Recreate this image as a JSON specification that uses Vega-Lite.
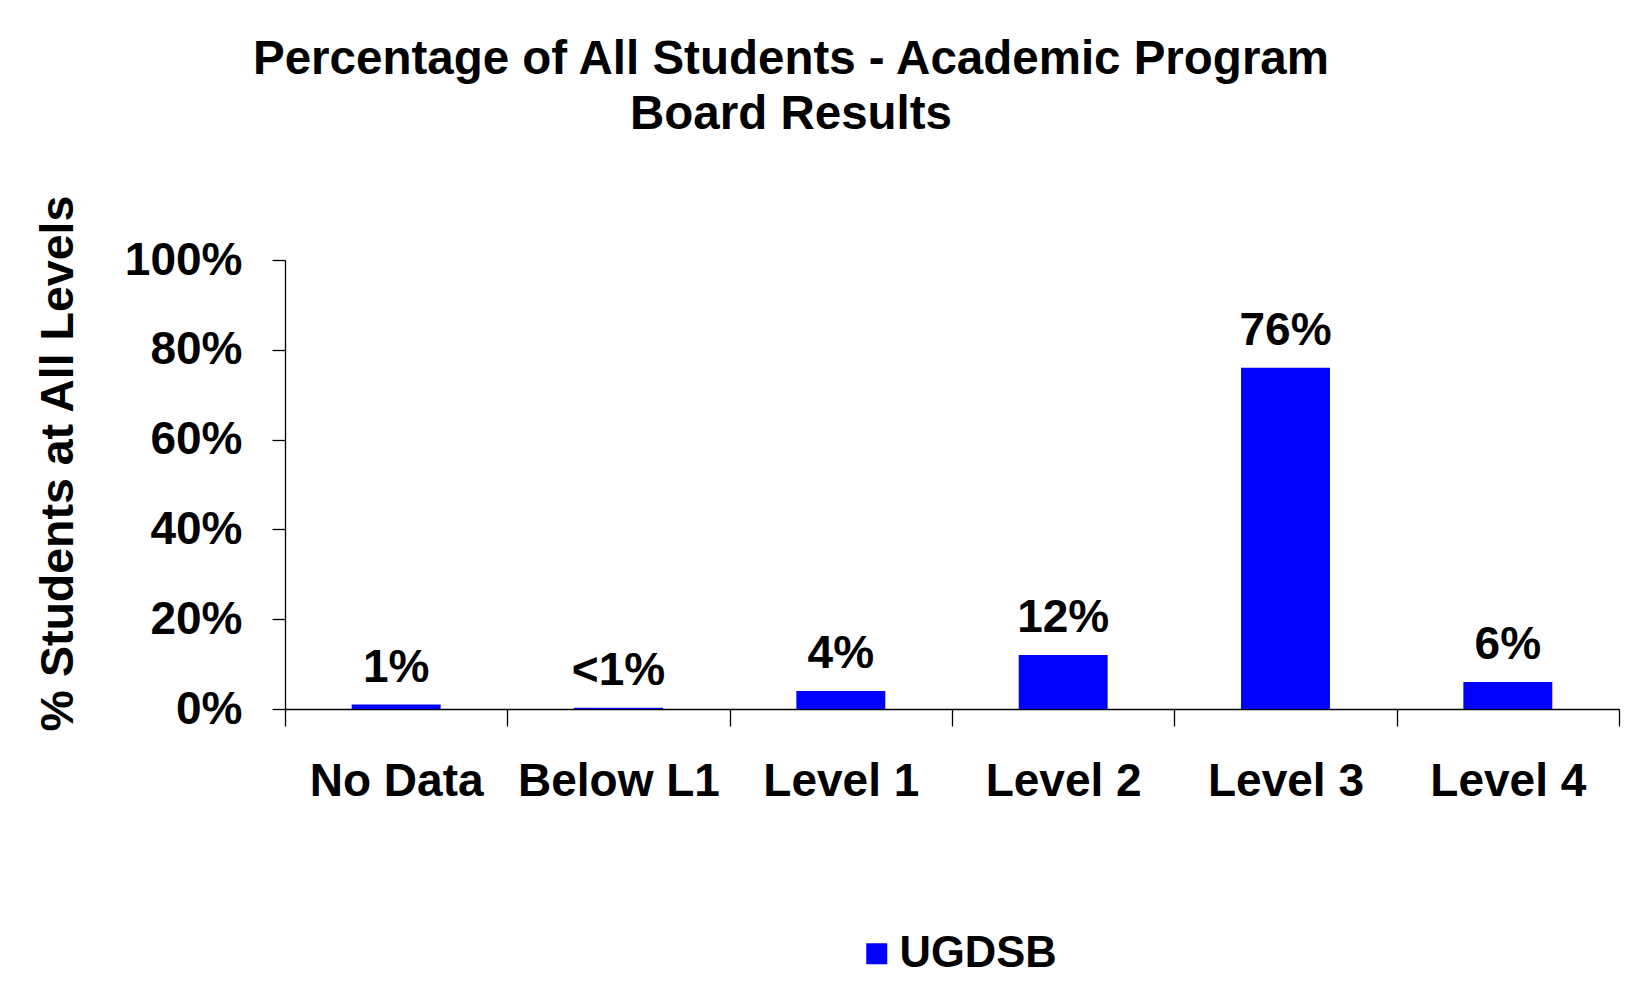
{
  "$schema": "https://vega.github.io/schema/vega-lite/v6.json",
  "width": 1334,
  "height": 449,
  "autosize": {"type": "none"},
  "padding": {"left": 285, "top": 260, "right": 17, "bottom": 279},
  "background": "#ffffff",
  "config": {
    "font": "Liberation Sans",
    "view": {"stroke": null},
    "axis": {"grid": false, "domainColor": "#000000", "tickColor": "#000000", "labelColor": "#000000", "titleColor": "#000000", "domainWidth": 1.3, "tickWidth": 1.3}
  },
  "title": {
    "text": ["Percentage of All Students - Academic Program", "Board Results"],
    "fontSize": 47.5,
    "fontWeight": "bold",
    "color": "#000000",
    "lineHeight": 55,
    "anchor": "middle",
    "frame": "group",
    "dx": -161,
    "dy": -52
  },
  "data": {
    "values": [
      {"level": "No Data", "pct": 0.01, "label": "1%", "series": "UGDSB"},
      {"level": "Below L1", "pct": 0.003, "label": "<1%", "series": "UGDSB"},
      {"level": "Level 1", "pct": 0.04, "label": "4%", "series": "UGDSB"},
      {"level": "Level 2", "pct": 0.12, "label": "12%", "series": "UGDSB"},
      {"level": "Level 3", "pct": 0.76, "label": "76%", "series": "UGDSB"},
      {"level": "Level 4", "pct": 0.06, "label": "6%", "series": "UGDSB"}
    ]
  },
  "encoding": {
    "x": {
      "field": "level",
      "type": "nominal",
      "sort": null,
      "scale": {"paddingInner": 0, "paddingOuter": 0},
      "axis": {
        "title": null,
        "labelAngle": 0,
        "labelFontSize": 46,
        "labelFontWeight": "bold",
        "labelPadding": 33,
        "labelLimit": 0,
        "tickSize": 17,
        "tickBand": "extent",
        "labelBaseline": "top"
      }
    },
    "y": {
      "field": "pct",
      "type": "quantitative",
      "scale": {"domain": [0, 1], "nice": false},
      "axis": {
        "title": "% Students at All Levels",
        "values": [0, 0.2, 0.4, 0.6, 0.8, 1],
        "format": ".0%",
        "labelFontSize": 46,
        "labelFontWeight": "bold",
        "labelPadding": 30,
        "tickSize": 13,
        "titleFontSize": 46.5,
        "titleFontWeight": "bold",
        "titleAngle": 270,
        "titleBaseline": "alphabetic",
        "titleAlign": "center",
        "titleX": -213,
        "titleY": 203
      }
    }
  },
  "layer": [
    {
      "mark": {"type": "bar", "width": {"band": 0.4}},
      "encoding": {
        "color": {
          "field": "series",
          "type": "nominal",
          "scale": {"range": ["#0000ff"]},
          "legend": {
            "title": null,
            "orient": "none",
            "legendX": 570,
            "legendY": 672,
            "symbolType": "square",
            "symbolSize": 441,
            "symbolStrokeWidth": 0,
            "symbolOpacity": 1,
            "labelFontSize": 43.5,
            "labelFontWeight": "bold",
            "labelColor": "#000000",
            "labelOffset": 1
          }
        }
      }
    },
    {
      "mark": {"type": "text", "fontSize": 46, "fontWeight": "bold", "color": "#000000", "baseline": "alphabetic", "dy": -23},
      "encoding": {"text": {"field": "label"}}
    }
  ]
}
